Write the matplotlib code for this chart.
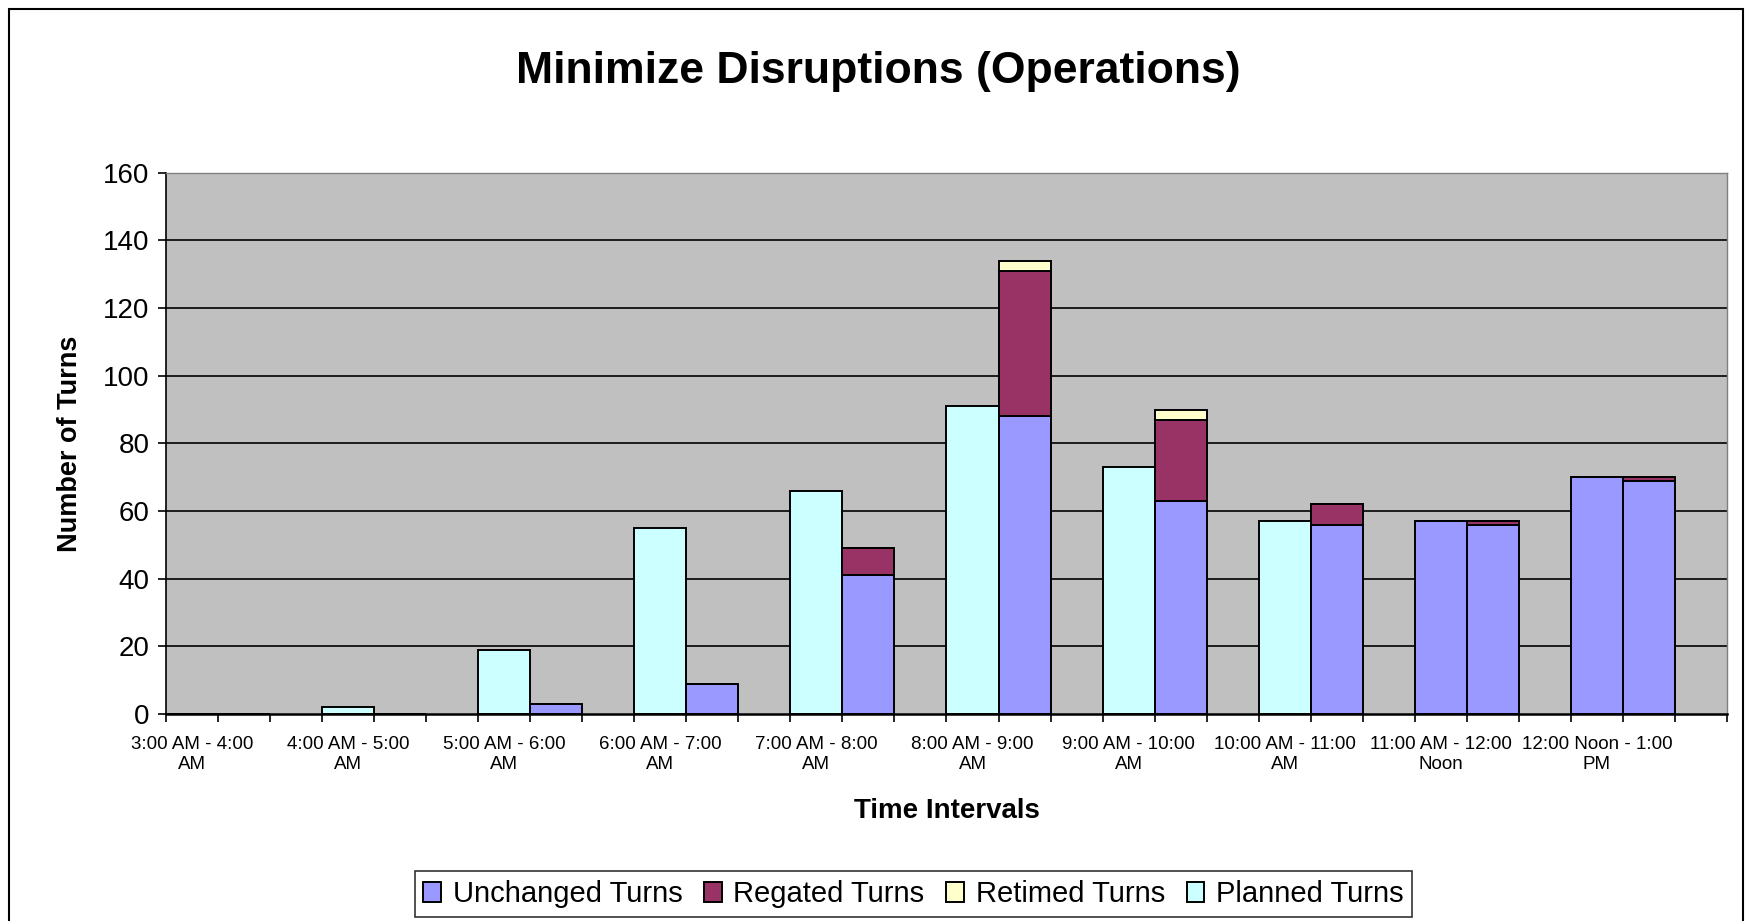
import numpy as np
import matplotlib
matplotlib.use("Agg")
import matplotlib.pyplot as plt
from matplotlib.patches import Patch, Rectangle

plt.rcParams['font.family'] = ['Liberation Sans', 'DejaVu Sans']

# one entry per hour interval
intervals = ["3:00 AM - 4:00\nAM", "4:00 AM - 5:00\nAM", "5:00 AM - 6:00\nAM",
             "6:00 AM - 7:00\nAM", "7:00 AM - 8:00\nAM", "8:00 AM - 9:00\nAM",
             "9:00 AM - 10:00\nAM", "10:00 AM - 11:00\nAM", "11:00 AM - 12:00\nNoon",
             "12:00 Noon - 1:00\nPM"]

# first column of each interval (plan)
planned = [0, 2, 19, 55, 66, 91, 73, 57, 0, 0]
planned_unchanged = [0, 0, 0, 0, 0, 0, 0, 0, 57, 70]

# second column of each interval (actual)
unchanged = [0, 0, 3, 9, 41, 88, 63, 56, 56, 69]
regated = [0, 0, 0, 0, 8, 43, 24, 6, 1, 1]
retimed = [0, 0, 0, 0, 0, 3, 3, 0, 0, 0]

c_unch = '#9999FF'
c_reg = '#993366'
c_ret = '#FFFFCC'
c_plan = '#CCFFFF'

fig = plt.figure(figsize=(17.46, 9.21), dpi=100)
ax = fig.add_axes([0.09507, 0.22476, 0.89404, 0.58773])
ax.set_facecolor('#C0C0C0')

n = len(intervals)
x_plan = np.arange(n) * 3 + 0.5
x_act = x_plan + 1

kw = dict(width=1.0, edgecolor='black', linewidth=1.4, zorder=3)

# plan column
ax.bar(x_plan, planned_unchanged, color=c_unch, **kw)
ax.bar(x_plan, planned, bottom=planned_unchanged, color=c_plan, **kw)

# actual column, stacked
b1 = np.array(unchanged)
b2 = b1 + np.array(regated)
ax.bar(x_act, unchanged, color=c_unch, **kw)
ax.bar(x_act, regated, bottom=b1, color=c_reg, **kw)
ax.bar(x_act, retimed, bottom=b2, color=c_ret, **kw)

ax.set_xlim(0, n * 3)
ax.set_ylim(0, 160)
yt = np.arange(0, 161, 20)
ax.set_yticks(yt)
for v in yt[1:-1]:
    ax.axhline(v, color='black', lw=1.2, zorder=1)

# ticks between every column, labels under the plan column
ax.set_xticks(np.arange(0, n * 3 + 1))
ax.set_xticklabels([])
ax.set_xticks(x_plan, minor=True)
ax.set_xticklabels(intervals, minor=True, fontsize=13.5, linespacing=1.2)
ax.tick_params(axis='x', which='major', direction='out', length=6, width=1.2)
ax.tick_params(axis='x', which='minor', length=0, pad=16)
ax.tick_params(axis='y', direction='out', length=6, width=1.2, labelsize=20, pad=6)

for s in ['top', 'right']:
    ax.spines[s].set_color('#808080')
    ax.spines[s].set_linewidth(1.0)
ax.spines['left'].set_linewidth(1.2)
ax.spines['bottom'].set_linewidth(1.8)
ax.spines['bottom'].set_zorder(4)

ax.set_ylabel("Number of Turns", fontsize=19.5, fontweight='bold', labelpad=14)
ax.set_xlabel("Time Intervals", fontsize=20, fontweight='bold', labelpad=18)

fig.text(878.5 / 1746, 1 - 71 / 921, "Minimize Disruptions (Operations)",
         fontsize=32, fontweight='bold', ha='center', va='center')

handles = [Patch(facecolor=c, edgecolor='black', linewidth=1.4)
           for c in (c_unch, c_reg, c_ret, c_plan)]
labels = ["Unchanged Turns", "Regated Turns", "Retimed Turns", "Planned Turns"]
leg = fig.legend(handles, labels, loc='center', bbox_to_anchor=(0.5232, 0.0293),
                 ncol=4, fontsize=21, frameon=True, fancybox=False,
                 handlelength=0.6, handleheight=0.7, handletextpad=0.4,
                 columnspacing=0.75, borderpad=0.3, borderaxespad=0)
leg.get_frame().set_edgecolor('black')
leg.get_frame().set_linewidth(1.2)

# chart border
fig.patches.append(Rectangle((8.5 / 1746, -0.1), (1743 - 8.5) / 1746, 1.1 - 9 / 921,
                             transform=fig.transFigure, fill=False,
                             edgecolor='black', linewidth=1.5))

fig.savefig("out.png", dpi=100)
